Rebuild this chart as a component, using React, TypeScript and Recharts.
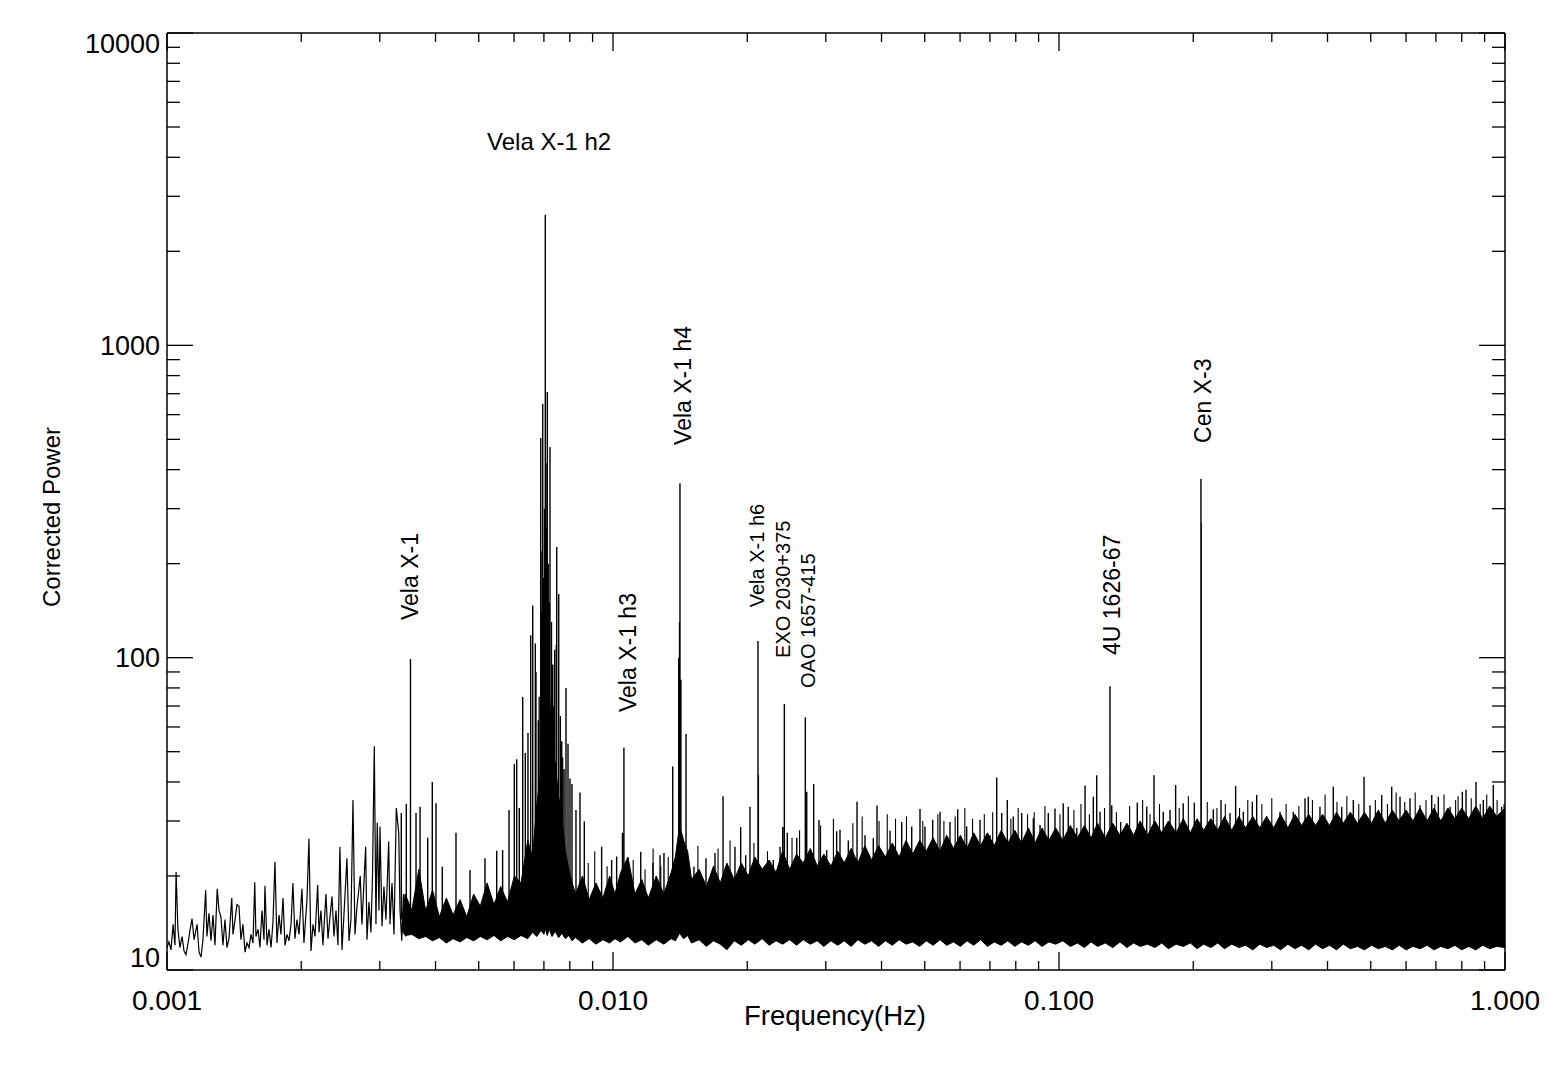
import React from 'react'
import { ComposedChart, Area, Line, Scatter, XAxis, YAxis } from 'recharts'

// low frequency part of the spectrum, where the trace is still a readable line
const traceFreq = [
  0.001, 0.00101, 0.001021, 0.001032, 0.001042, 0.001048, 0.001058, 0.001069, 0.001081, 0.001092,
  0.001103, 0.001115, 0.001126, 0.001138, 0.00115, 0.001168, 0.00118, 0.001192, 0.001204, 0.001221,
  0.001229, 0.001242, 0.001255, 0.001268, 0.001281, 0.001296, 0.001308, 0.001321, 0.001335, 0.001349,
  0.001363, 0.001377, 0.001397, 0.001406, 0.001421, 0.001435, 0.00145, 0.001465, 0.00148, 0.001496,
  0.001511, 0.001527, 0.001543, 0.001559, 0.001573, 0.001583, 0.0016, 0.001616, 0.001633, 0.00165,
  0.001658, 0.001676, 0.001693, 0.001711, 0.001728, 0.001746, 0.001764, 0.001783, 0.001801, 0.00182,
  0.001839, 0.001858, 0.001877, 0.001897, 0.001916, 0.001936, 0.001956, 0.001977, 0.002007, 0.002028,
  0.00206, 0.002081, 0.002103, 0.002125, 0.002147, 0.002177, 0.002192, 0.002214, 0.002237, 0.002272,
  0.002296, 0.00232, 0.002344, 0.002368, 0.002393, 0.002417, 0.002442, 0.002468, 0.002493, 0.002532,
  0.002559, 0.002585, 0.002612, 0.002639, 0.002667, 0.002712, 0.002736, 0.002789, 0.002808, 0.002837,
  0.002866, 0.002889, 0.002916, 0.002941, 0.002961, 0.002987, 0.003003, 0.003034, 0.003065, 0.003097,
  0.003141, 0.003162, 0.003195, 0.003228, 0.003267, 0.003308, 0.00333, 0.00336, 0.00339, 0.00343,
]
const tracePower = [
  11.8, 12.3, 11.6, 14.0, 12.0, 20.6, 13.5, 11.8, 12.8, 11.5,
  11.2, 12.2, 13.4, 14.6, 12.5, 14.0, 11.4, 11.0, 12.5, 18.0,
  12.8, 15.2, 12.4, 15.0, 12.0, 18.2, 15.5, 14.8, 12.0, 14.5,
  11.8, 12.6, 17.0, 13.0, 14.5, 16.2, 16.0, 12.5, 14.0, 11.4,
  12.2, 11.8, 13.0, 12.2, 19.1, 12.8, 13.5, 11.8, 15.5, 12.5,
  18.6, 12.0, 13.5, 11.8, 14.2, 22.2, 12.2, 15.0, 13.0, 17.0,
  12.0, 13.0, 12.4, 14.0, 19.0, 12.6, 14.5, 13.0, 18.2, 12.2,
  16.8, 26.3, 11.5, 14.0, 12.8, 18.7, 13.2, 15.5, 12.0, 17.5,
  12.6, 14.8, 17.2, 12.8, 15.5, 12.0, 24.8, 11.6, 15.0, 22.8,
  12.4, 14.5, 35, 13.0, 16.0, 20, 14.0, 24.8, 12.5, 16.5,
  13.2, 20, 52, 14, 29.6, 15.5, 28.8, 13.8, 18.5, 14.5,
  25.8, 14.0, 19.0, 13.0, 33.0, 27.5, 15.5, 12.4, 17.5, 12.8,
]

// dense noise floor: lower and upper edge of the black band
const bandFreq = [
  0.00336, 0.00342, 0.00354, 0.00367, 0.0038, 0.00394, 0.00408, 0.00423, 0.00438, 0.00454,
  0.0047, 0.00487, 0.00504, 0.00522, 0.00541, 0.0056, 0.0058, 0.00601, 0.00622, 0.00644,
  0.0066, 0.00675, 0.0069, 0.007, 0.00705, 0.00712, 0.0072, 0.0073, 0.00742, 0.00755,
  0.00768, 0.00782, 0.00796, 0.0081, 0.00824, 0.00854, 0.00884, 0.00916, 0.00949, 0.00983,
  0.0101, 0.0104, 0.0108, 0.0112, 0.0116, 0.012, 0.0125, 0.013, 0.0135, 0.0138,
  0.0141, 0.0144, 0.0147, 0.015, 0.0156, 0.0162, 0.0168, 0.0174, 0.018, 0.0187,
  0.0194, 0.0201, 0.0208, 0.0216, 0.0224, 0.0232, 0.024, 0.0249, 0.0258, 0.0267,
  0.0277, 0.0287, 0.0297, 0.0308, 0.0319, 0.033, 0.0342, 0.0354, 0.0367, 0.038,
  0.0394, 0.0408, 0.0423, 0.0438, 0.0454, 0.047, 0.0487, 0.0504, 0.0522, 0.0541,
  0.056, 0.058, 0.0601, 0.0622, 0.0644, 0.0667, 0.0691, 0.0716, 0.0742, 0.0768,
  0.0796, 0.0824, 0.0854, 0.0884, 0.0916, 0.0949, 0.0983, 0.102, 0.106, 0.11,
  0.114, 0.118, 0.122, 0.127, 0.132, 0.137, 0.142, 0.147, 0.152, 0.158,
  0.164, 0.17, 0.176, 0.183, 0.19, 0.197, 0.204, 0.211, 0.219, 0.227,
  0.235, 0.244, 0.253, 0.262, 0.272, 0.282, 0.292, 0.303, 0.314, 0.326,
  0.338, 0.35, 0.363, 0.376, 0.39, 0.404, 0.419, 0.434, 0.45, 0.467,
  0.484, 0.502, 0.52, 0.539, 0.559, 0.579, 0.6, 0.622, 0.645, 0.669,
  0.693, 0.718, 0.745, 0.772, 0.8, 0.829, 0.86, 0.891, 0.924, 0.958,
  1.0,
]
const bandLow = [
  13.4, 12.9, 13.0, 12.6, 12.8, 12.4, 12.7, 12.2, 12.6, 12.3,
  12.7, 12.4, 12.8, 12.5, 12.9, 12.4, 12.8, 12.5, 12.9, 12.6,
  13.2, 12.8, 13.4, 13.0, 13.6, 12.9, 13.5, 12.8, 13.3, 12.7,
  13.1, 12.6, 12.9, 12.4, 12.7, 12.2, 12.6, 12.1, 12.5, 12.2,
  12.6, 12.3, 12.8, 12.2, 12.5, 12.0, 12.5, 12.1, 12.6, 12.4,
  13.1, 12.6, 12.9, 12.2, 12.5, 11.9, 12.4, 12.1, 11.6, 12.4,
  12.0, 12.5, 12.1, 12.6, 12.0, 12.4, 12.1, 12.5, 12.0, 12.5,
  12.1, 12.4, 11.9, 12.4, 12.0, 12.4, 11.9, 12.5, 12.1, 12.4,
  11.9, 12.4, 12.0, 12.5, 12.1, 12.3, 11.9, 12.4, 12.0, 12.5,
  12.0, 12.3, 11.9, 12.4, 12.0, 12.5, 11.9, 12.3, 12.0, 12.4,
  11.9, 12.3, 12.0, 12.4, 11.9, 12.3, 12.1, 12.4, 11.9, 12.2,
  11.8, 12.3, 11.9, 12.2, 11.8, 12.3, 11.8, 12.2, 11.9, 12.1,
  11.8, 12.2, 11.7, 12.1, 11.9, 12.2, 11.7, 12.1, 11.8, 12.2,
  11.7, 12.1, 11.8, 12.0, 11.6, 12.1, 11.8, 12.0, 11.6, 12.1,
  11.7, 12.0, 11.6, 12.1, 11.7, 12.0, 11.6, 12.1, 11.7, 11.9,
  11.6, 12.0, 11.7, 11.9, 11.6, 12.0, 11.6, 11.9, 11.7, 12.0,
  11.6, 11.9, 11.7, 12.0, 11.6, 11.9, 11.6, 12.0, 11.7, 11.9,
  11.8,
]
const bandHigh = [
  13.8, 17.5, 15.5, 21, 15.5, 18, 14.8, 17, 15, 16.8,
  14.8, 17.5, 16, 19, 16.2, 18.5, 16.5, 20, 19, 26,
  23, 34, 44, 68, 90, 66, 78, 52, 46, 36,
  31, 24, 21, 19, 17.5, 20, 16.8, 19, 17, 20,
  17.5, 20.5, 23, 17.5, 19.5, 17, 20, 17.5, 20.5, 23,
  29, 26, 24, 19.5, 21, 18.5, 21.5, 19, 22, 19.5,
  22, 20, 23, 21, 22.5, 20.5, 24, 21, 23.5, 22,
  24.5, 21.5, 23.5, 21.5, 24, 22, 24.5, 22, 25, 22.5,
  25, 23, 25.5, 23, 26, 23.5, 26, 24, 26.5, 24,
  27, 24.5, 27, 24.5, 27.5, 25, 27.5, 25, 28, 25.5,
  28, 25.5, 28.5, 25.5, 28.5, 26, 28.5, 26, 29, 26.5,
  29, 26.5, 29.5, 26.5, 29.5, 27, 29.5, 27, 30, 27,
  30, 27.5, 30, 27.5, 30.5, 27.5, 30.5, 28, 30.5, 28,
  31, 28, 31, 28.5, 31, 28.5, 31, 28.5, 31.5, 28.5,
  31.5, 29, 31.5, 29, 31.5, 29, 32, 29.5, 32, 29.5,
  32, 29.5, 32.5, 29.5, 32.5, 30, 32.5, 30, 33, 30,
  33, 30, 33, 30.5, 33, 30.5, 33.5, 30.5, 33.5, 31,
  33,
]

// named and strong single-bin peaks
const spikeFreq = [
  0.003352, 0.00344, 0.003515, 0.003617, 0.003693, 0.003842, 0.003934, 0.00401, 0.004142, 0.004446,
  0.004779, 0.005164, 0.005486, 0.005656, 0.005846, 0.006008, 0.006083, 0.006165, 0.006274, 0.006359,
  0.006447, 0.006538, 0.006607, 0.006696, 0.0068, 0.006885, 0.006957, 0.00705, 0.007124, 0.007223,
  0.007401, 0.007478, 0.007556, 0.007674, 0.007845, 0.007927, 0.008009, 0.008092, 0.00826, 0.008433,
  0.008623, 0.00943, 0.00993, 0.01019, 0.0105, 0.01058, 0.01154, 0.01229, 0.01275, 0.01301,
  0.01361, 0.01404, 0.0141, 0.01413, 0.0142, 0.01458, 0.01519, 0.01616, 0.01693, 0.01765,
  0.01877, 0.01933, 0.01984, 0.02028, 0.02114, 0.02118, 0.02173, 0.02288, 0.02369, 0.02402,
  0.02422, 0.02459, 0.02582, 0.02699, 0.02719, 0.02818, 0.02896, 0.03014, 0.03173, 0.03228,
  0.0337, 0.03525, 0.03673, 0.03834, 0.03908, 0.0418, 0.0444, 0.04675, 0.04879, 0.05006,
  0.05209, 0.0541, 0.05696, 0.05928, 0.06209, 0.06652, 0.07003, 0.0725, 0.07439, 0.07658,
  0.07898, 0.08248, 0.08759, 0.09067, 0.09463, 0.09795, 0.1022, 0.1049, 0.1096, 0.1144,
  0.1194, 0.1215, 0.1236, 0.1301, 0.1313, 0.1375, 0.1418, 0.1498, 0.1573, 0.1633,
  0.1713, 0.1774, 0.1826, 0.1899, 0.2011, 0.2081, 0.2084, 0.2218, 0.2308, 0.2418,
  0.2489, 0.259, 0.2713, 0.2775, 0.2922, 0.313, 0.3352, 0.3561, 0.3622, 0.3847,
  0.4121, 0.4304, 0.457, 0.483, 0.4981, 0.5291, 0.5572, 0.5816, 0.6124, 0.6449,
  0.685, 0.7088, 0.7529, 0.8024, 0.8178, 0.861, 0.894, 0.9414, 0.9831,
]
const spikePower = [
  31.8, 34, 99, 31.8, 33.3, 26.5, 40, 34.2, 21.4, 27.5,
  20.9, 22.8, 24.1, 24.2, 32.5, 45.7, 47.3, 33, 74.8, 49.5,
  57.4, 118, 147, 111, 63, 505, 649, 2617, 709, 473,
  106, 226, 160, 54, 80, 53, 41, 39.4, 32.5, 37,
  29.9, 24.8, 22.5, 23.1, 27.5, 51.5, 23.9, 22.0, 23.3, 23.7,
  44.8, 100, 130, 362, 85, 57, 21.4, 22.8, 23.7, 36,
  24.8, 28.7, 23.3, 33.3, 113, 42, 21.1, 22.5, 24.8, 28.7,
  71, 27.5, 26.5, 64.5, 37.2, 39.4, 30.2, 24.2, 27.8, 28.1,
  26.0, 34.6, 27.0, 26.4, 33.6, 27.9, 29.8, 28.8, 32.8, 28.8,
  30.3, 32.1, 29.8, 32.7, 28.8, 30.3, 27.0, 41.3, 31.8, 35.0,
  31.0, 31.8, 30.6, 29.1, 31.8, 32.9, 34.2, 33.3, 28.5, 39,
  35.9, 42, 32.1, 81, 33.7, 29.8, 27.8, 34.3, 33.3, 42,
  32.1, 32.5, 39.1, 34.2, 34.3, 373, 270, 32.7, 35, 31.8,
  38.8, 32.1, 34.6, 36.3, 31.0, 32.1, 32.1, 35.5, 35.9, 33.3,
  38.6, 33.3, 35, 41.6, 33.7, 36.3, 38.6, 35.9, 35.5, 33.7,
  36.3, 35.9, 33.3, 37.2, 37.8, 40.0, 35, 39.1, 33.3,
]

// weaker lines inside the Vela X-1 h2 group
const clusterFreq = [
  0.00672, 0.00683, 0.0069, 0.00693, 0.00698, 0.00702, 0.00708, 0.00712, 0.00716, 0.0072,
  0.00728, 0.00733, 0.00738, 0.00746, 0.00762, 0.00771, 0.00777,
]
const clusterPower = [90, 75, 140, 220, 180, 300, 420, 260, 200, 150, 130, 95, 70, 110, 65, 48, 44]

// hair on top of the noise band
const hairFreq = [
  0.0088, 0.0091, 0.0097, 0.0111, 0.0118, 0.0123, 0.0128, 0.0133, 0.0155, 0.0172,
  0.0183, 0.0207, 0.0222, 0.0252, 0.0262, 0.0292, 0.0312, 0.0345, 0.0362, 0.0395,
  0.0412, 0.043, 0.0455, 0.0495, 0.0535, 0.0552, 0.0585, 0.0615, 0.064, 0.068,
  0.071, 0.078, 0.081, 0.085, 0.088, 0.093, 0.1005, 0.108, 0.112, 0.117,
  0.1265, 0.1345, 0.144, 0.154, 0.16, 0.168, 0.186, 0.195, 0.215, 0.226,
  0.236, 0.254, 0.265, 0.285, 0.3, 0.323, 0.345, 0.37, 0.395, 0.42,
  0.442, 0.47, 0.512, 0.545, 0.57, 0.596, 0.629, 0.665, 0.696, 0.73,
  0.775, 0.785, 0.84, 0.88, 0.91, 0.96, 0.995,
]
const hairPower = [
  22, 24, 21.5, 22.5, 21, 24.5, 21.5, 23, 25, 24.5,
  26, 25.5, 24, 26.5, 28, 29, 30.5, 29.5, 31, 30,
  31.5, 30.5, 31, 30, 31.5, 30, 31, 33, 30.5, 31.5,
  32, 30.5, 33, 31.5, 32, 33.5, 31.5, 32.5, 34, 31.5,
  33, 32, 33.5, 35, 31.5, 34, 33, 36, 34.5, 33,
  34, 33, 35, 34, 35.5, 34, 33.5, 35, 36.5, 34.5,
  36, 34, 35, 34, 37, 34.5, 37, 35, 34, 36.5,
  35, 36, 35.5, 34, 36.5, 35, 34,
]

// source labels, anchored at the foot of the text
const labelText = ['Vela X-1 h2', 'Vela X-1', 'Vela X-1 h3', 'Vela X-1 h4', 'Vela X-1 h6', 'EXO 2030+375', 'OAO 1657-415', '4U 1626-67', 'Cen X-3']
const labelFreq = [0.00719, 0.00351, 0.0108, 0.01435, 0.02103, 0.02406, 0.02737, 0.1315, 0.2103]
const labelPower = [4225, 132, 67, 480, 145, 99.8, 80, 102, 487]

const xTicks = [
  0.001, 0.002, 0.003, 0.004, 0.005, 0.006, 0.007, 0.008, 0.009,
  0.01, 0.02, 0.03, 0.04, 0.05, 0.06, 0.07, 0.08, 0.09,
  0.1, 0.2, 0.3, 0.4, 0.5, 0.6, 0.7, 0.8, 0.9, 1,
]
const yTicks = [
  10, 20, 30, 40, 50, 60, 70, 80, 90,
  100, 200, 300, 400, 500, 600, 700, 800, 900,
  1000, 2000, 3000, 4000, 5000, 6000, 7000, 8000, 9000, 10000,
]

const FONT = '"Liberation Sans", Arial, Helvetica, sans-serif'
const SPIKE_BASE = 14.5
const smallLabels = ['Vela X-1 h6', 'EXO 2030+375', 'OAO 1657-415']

const toSegments = (freqs: number[], powers: number[]) =>
  freqs.flatMap((f, i) => [
    { f, v: SPIKE_BASE },
    { f, v: powers[i] },
    { f, v: null },
  ])

const traceData = traceFreq.map((f, i) => ({ f, v: tracePower[i] }))
const bandData = bandFreq.map((f, i) => ({ f, r: [bandLow[i], bandHigh[i]] }))
const spikeData = toSegments(spikeFreq, spikePower)
const clusterData = toSegments(clusterFreq, clusterPower)
const hairData = toSegments(hairFreq, hairPower)
const labelData = labelText.map((text, i) => ({ f: labelFreq[i], v: labelPower[i], text }))

const isMajor = (v: number) => Math.abs(Math.log10(v) - Math.round(Math.log10(v))) < 1e-6

function BottomTick({ x, y, payload }: any) {
  const major = isMajor(payload.value)
  return (
    <g>
      <line x1={x} x2={x} y1={y} y2={y - (major ? 18 : 9)} stroke="#000" strokeWidth={1.3} />
      {major && (
        <text x={x} y={y + 40} textAnchor="middle" fontSize={28} fontFamily={FONT} fill="#000">
          {payload.value.toFixed(3)}
        </text>
      )}
    </g>
  )
}

function TopTick({ x, y, payload }: any) {
  const major = isMajor(payload.value)
  return <line x1={x} x2={x} y1={y} y2={y + (major ? 18 : 9)} stroke="#000" strokeWidth={1.3} />
}

function LeftTick({ x, y, payload }: any) {
  const v = payload.value
  const major = isMajor(v)
  const shift = v === 10000 ? 10 : v === 10 ? -13 : 0
  return (
    <g>
      <line x1={x} x2={x + (major ? 26 : 13)} y1={y} y2={y} stroke="#000" strokeWidth={1.3} />
      {major && (
        <text x={x - 7} y={y + shift} dy="0.36em" textAnchor="end" fontSize={27} fontFamily={FONT} fill="#000">
          {String(v)}
        </text>
      )}
    </g>
  )
}

function RightTick({ x, y, payload }: any) {
  const major = isMajor(payload.value)
  return <line x1={x} x2={x - (major ? 26 : 13)} y1={y} y2={y} stroke="#000" strokeWidth={1.3} />
}

function SourceLabel({ cx, cy, payload }: any) {
  const small = smallLabels.includes(payload.text)
  if (payload.text === 'Vela X-1 h2') {
    return (
      <text x={cx} y={cy} textAnchor="middle" fontSize={24} fontFamily={FONT} fill="#000">
        {payload.text}
      </text>
    )
  }
  return (
    <text
      x={cx}
      y={cy}
      dy="0.36em"
      textAnchor="start"
      fontSize={small ? 20 : 23}
      fontFamily={FONT}
      fill="#000"
      transform={`rotate(-90 ${cx} ${cy})`}
    >
      {payload.text}
    </text>
  )
}

const axisLine = { stroke: '#000', strokeWidth: 1.5 }

export default function App() {
  return (
    <div style={{ position: 'relative', width: 1541, height: 1060, background: '#fff', fontFamily: FONT }}>
      <ComposedChart width={1541} height={1060} margin={{ top: 15, right: 34, bottom: 38, left: 59 }}>
        <XAxis
          dataKey="f"
          type="number"
          scale="log"
          domain={[0.001, 1]}
          ticks={xTicks}
          interval={0}
          allowDataOverflow
          height={60}
          tickSize={0}
          tickMargin={0}
          axisLine={axisLine}
          tick={<BottomTick />}
        />
        <XAxis
          xAxisId="top"
          orientation="top"
          dataKey="f"
          type="number"
          scale="log"
          domain={[0.001, 1]}
          ticks={xTicks}
          interval={0}
          allowDataOverflow
          height={10}
          tickSize={0}
          tickMargin={0}
          axisLine={axisLine}
          tick={<TopTick />}
        />
        <YAxis
          type="number"
          scale="log"
          domain={[10, 10000]}
          ticks={yTicks}
          interval={0}
          allowDataOverflow
          width={100}
          tickSize={0}
          tickMargin={0}
          axisLine={axisLine}
          tick={<LeftTick />}
        />
        <YAxis
          yAxisId="right"
          orientation="right"
          type="number"
          scale="log"
          domain={[10, 10000]}
          ticks={yTicks}
          interval={0}
          allowDataOverflow
          width={10}
          tickSize={0}
          tickMargin={0}
          axisLine={axisLine}
          tick={<RightTick />}
        />
        <Area
          data={bandData}
          dataKey="r"
          type="linear"
          stroke="#000"
          strokeWidth={1}
          fill="#000"
          fillOpacity={1}
          dot={false}
          activeDot={false}
          isAnimationActive={false}
        />
        <Line
          data={traceData}
          dataKey="v"
          type="linear"
          stroke="#000"
          strokeWidth={1.2}
          dot={false}
          activeDot={false}
          isAnimationActive={false}
        />
        <Line
          data={hairData}
          dataKey="v"
          type="linear"
          stroke="#000"
          strokeWidth={1.1}
          dot={false}
          activeDot={false}
          connectNulls={false}
          isAnimationActive={false}
        />
        <Line
          data={clusterData}
          dataKey="v"
          type="linear"
          stroke="#000"
          strokeWidth={1.3}
          dot={false}
          activeDot={false}
          connectNulls={false}
          isAnimationActive={false}
        />
        <Line
          data={spikeData}
          dataKey="v"
          type="linear"
          stroke="#000"
          strokeWidth={1.4}
          dot={false}
          activeDot={false}
          connectNulls={false}
          isAnimationActive={false}
        />
        <Scatter data={labelData} dataKey="v" shape={<SourceLabel />} isAnimationActive={false} />
      </ComposedChart>
      <div
        style={{
          position: 'absolute',
          left: 827,
          top: 994,
          transform: 'translateX(-50%)',
          fontSize: 27.5,
          lineHeight: 1,
          whiteSpace: 'nowrap',
          color: '#000',
        }}
      >
        Frequency(Hz)
      </div>
      <div
        style={{
          position: 'absolute',
          left: 44,
          top: 509,
          transform: 'translate(-50%, -50%) rotate(-90deg)',
          fontSize: 24,
          lineHeight: 1,
          whiteSpace: 'nowrap',
          color: '#000',
        }}
      >
        Corrected Power
      </div>
    </div>
  )
}
